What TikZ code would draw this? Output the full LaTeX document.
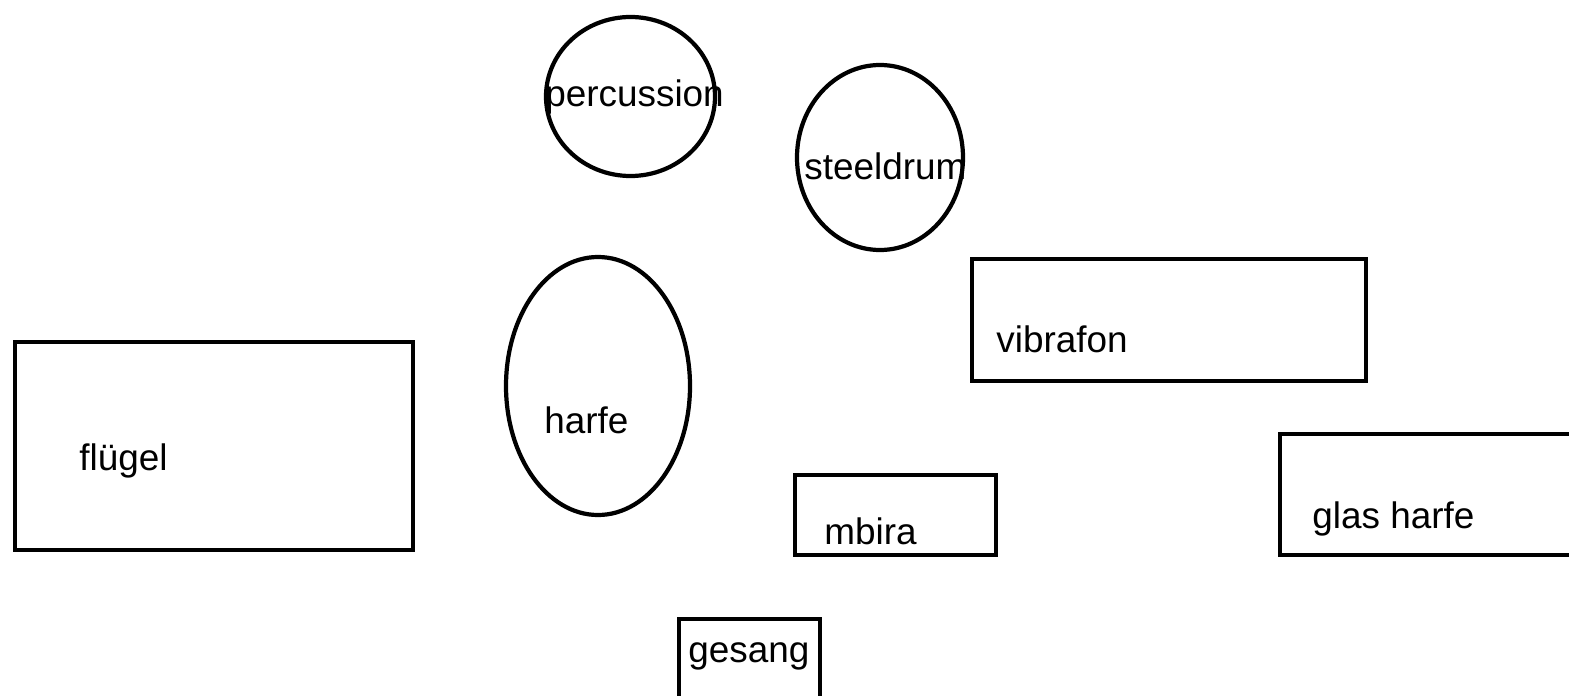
\documentclass[tikz,border=0pt]{standalone}
\usepackage{fontspec}
\setmainfont{Liberation Sans}
\usepackage{tikz}
\usetikzlibrary{shapes,positioning}

\begin{document}
\begin{tikzpicture}[x=0.02cm, y=-0.02cm]
  % Styles for the instrument shapes and their labels
  \tikzstyle{instrbox} = [rectangle, draw=black, line width=2.4pt, inner sep=0pt, outer sep=0pt]
  \tikzstyle{instrround} = [ellipse, draw=black, line width=2.4pt, inner sep=0pt, outer sep=0pt]
  \tikzstyle{instrlabel} = [anchor=base west, inner sep=0pt, font=\fontsize{21}{25}\selectfont]

  % Canvas
  \clip (0, 0) rectangle (1569, 696);

  % Round instruments
  \node[instrround, minimum width=169*0.02cm, minimum height=159*0.02cm] (percussionshape) at (630.5, 96.5) {};
  \node[instrround, minimum width=166*0.02cm, minimum height=185*0.02cm] (steeldrumshape) at (880, 157.5) {};
  \node[instrround, minimum width=184*0.02cm, minimum height=258*0.02cm] (harfeshape) at (598, 386) {};

  % Rectangular instruments
  \node[instrbox, minimum width=398*0.02cm, minimum height=208*0.02cm] (fluegelshape) at (214, 446) {};
  \node[instrbox, minimum width=394*0.02cm, minimum height=122*0.02cm] (vibrafonshape) at (1169, 320) {};
  \node[instrbox, minimum width=201*0.02cm, minimum height=80*0.02cm] (mbirashape) at (895.5, 515) {};
  \node[instrbox, minimum width=340*0.02cm, minimum height=121*0.02cm] (glasharfeshape) at (1450, 494.5) {};
  \node[instrbox, minimum width=141*0.02cm, minimum height=121*0.02cm] (gesangshape) at (749.5, 679.5) {};

  % Labels
  \node[instrlabel] (percussion) at (545, 107) {percussion};
  \node[instrlabel] (steeldrum) at (804, 179) {steeldrum};
  \node[instrlabel] (harfe) at (544, 433) {harfe};
  \node[instrlabel] (fluegel) at (79, 470) {flügel};
  \node[instrlabel] (vibrafon) at (996, 352) {vibrafon};
  \node[instrlabel] (mbira) at (824, 544) {mbira};
  \node[instrlabel] (glasharfe) at (1312, 528) {glas harfe};
  \node[instrlabel] (gesang) at (688, 662) {gesang};

\end{tikzpicture}
\end{document}
